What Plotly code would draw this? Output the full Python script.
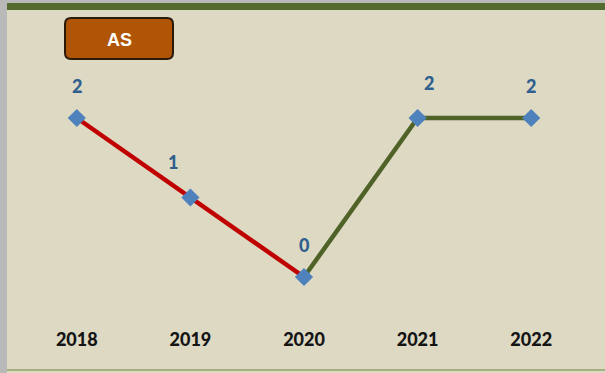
import plotly.graph_objects as go

# Data
years = ["2018", "2019", "2020", "2021", "2022"]
values = [2, 1, 0, 2, 2]
title_text = "AS"

W, H = 605, 373
ML, MR, MT, MB = 20, 17, 20, 53
PW, PH = W - ML - MR, H - MT - MB

def px_x(x):
    return (x - ML) / PW

def px_y(y):
    return (H - MB - y) / PH

def rounded_rect(x0, y0, x1, y1, r):
    # path in paper coordinates from pixel corners
    pts = [
        f"M {px_x(x0 + r)} {px_y(y0)}",
        f"L {px_x(x1 - r)} {px_y(y0)}",
        f"Q {px_x(x1)} {px_y(y0)} {px_x(x1)} {px_y(y0 + r)}",
        f"L {px_x(x1)} {px_y(y1 - r)}",
        f"Q {px_x(x1)} {px_y(y1)} {px_x(x1 - r)} {px_y(y1)}",
        f"L {px_x(x0 + r)} {px_y(y1)}",
        f"Q {px_x(x0)} {px_y(y1)} {px_x(x0)} {px_y(y1 - r)}",
        f"L {px_x(x0)} {px_y(y0 + r)}",
        f"Q {px_x(x0)} {px_y(y0)} {px_x(x0 + r)} {px_y(y0)}",
        "Z",
    ]
    return " ".join(pts)

RED = "#C00000"
GREEN = "#4F6228"
MARK = "#4F81BD"
LABEL = "#2F5F8F"

idx = list(range(len(years)))

fig = go.Figure()

# falling part (red) and rising part (green)
fig.add_trace(go.Scatter(x=idx[:3], y=values[:3], mode="lines",
                         line=dict(color=RED, width=4.5), hoverinfo="skip"))
fig.add_trace(go.Scatter(x=idx[2:], y=values[2:], mode="lines",
                         line=dict(color=GREEN, width=4.5), hoverinfo="skip"))
fig.add_trace(go.Scatter(x=idx, y=values, mode="markers",
                         marker=dict(symbol="diamond", size=14, color=MARK,
                                     line=dict(width=0))))

# value labels with per-point offsets
shifts = [(0, 32), (-17, 35), (0, 32), (11, 35), (0, 32)]
for i, v, (dx, dy) in zip(idx, values, shifts):
    fig.add_annotation(x=i, y=v, text=str(v), showarrow=False,
                       xshift=dx, yshift=dy, xanchor="center", yanchor="middle",
                       font=dict(family="Lato", size=18, color=LABEL, weight=900))

shapes = [
    # gray left strip and top band
    dict(type="rect", xref="paper", yref="paper", x0=px_x(0), x1=px_x(7),
         y0=px_y(H), y1=px_y(0), fillcolor="#B9B9B9", line=dict(width=0), layer="below"),
    dict(type="rect", xref="paper", yref="paper", x0=px_x(0), x1=px_x(W),
         y0=px_y(3), y1=px_y(0), fillcolor="#B9B9B9", line=dict(width=0), layer="below"),
    # green header bar
    dict(type="rect", xref="paper", yref="paper", x0=px_x(7), x1=px_x(W),
         y0=px_y(10), y1=px_y(3), fillcolor="#556B2F", line=dict(width=0), layer="below"),
    # thin bottom border
    dict(type="line", xref="paper", yref="paper", x0=px_x(7), x1=px_x(W),
         y0=px_y(370), y1=px_y(370), line=dict(color="#8FA36A", width=1.5), layer="below"),
    # title box
    dict(type="path", xref="paper", yref="paper", path=rounded_rect(65, 18, 173, 59, 6),
         fillcolor="#B05405", line=dict(color="#2B1A0A", width=2)),
]

fig.add_annotation(xref="paper", yref="paper", x=px_x(119), y=px_y(40),
                   xanchor="center", yanchor="middle",
                   text=title_text, showarrow=False,
                   font=dict(family="Liberation Sans", size=18, color="white", weight="bold"))

fig.update_layout(
    width=W, height=H,
    margin=dict(l=ML, r=MR, t=MT, b=MB),
    paper_bgcolor="#DDD9C3", plot_bgcolor="rgba(0,0,0,0)",
    showlegend=False, shapes=shapes,
)
fig.update_xaxes(range=[-0.5, 4.5], showgrid=False, zeroline=False,
                 showline=False, ticks="", ticklabelstandoff=7, automargin=False,
                 tickmode="array", tickvals=idx, ticktext=years,
                 tickfont=dict(family="Lato", size=18, color="#141414", weight=900))
fig.update_yaxes(range=[-0.541, 3.2327], visible=False)

fig.write_html("out.html")
